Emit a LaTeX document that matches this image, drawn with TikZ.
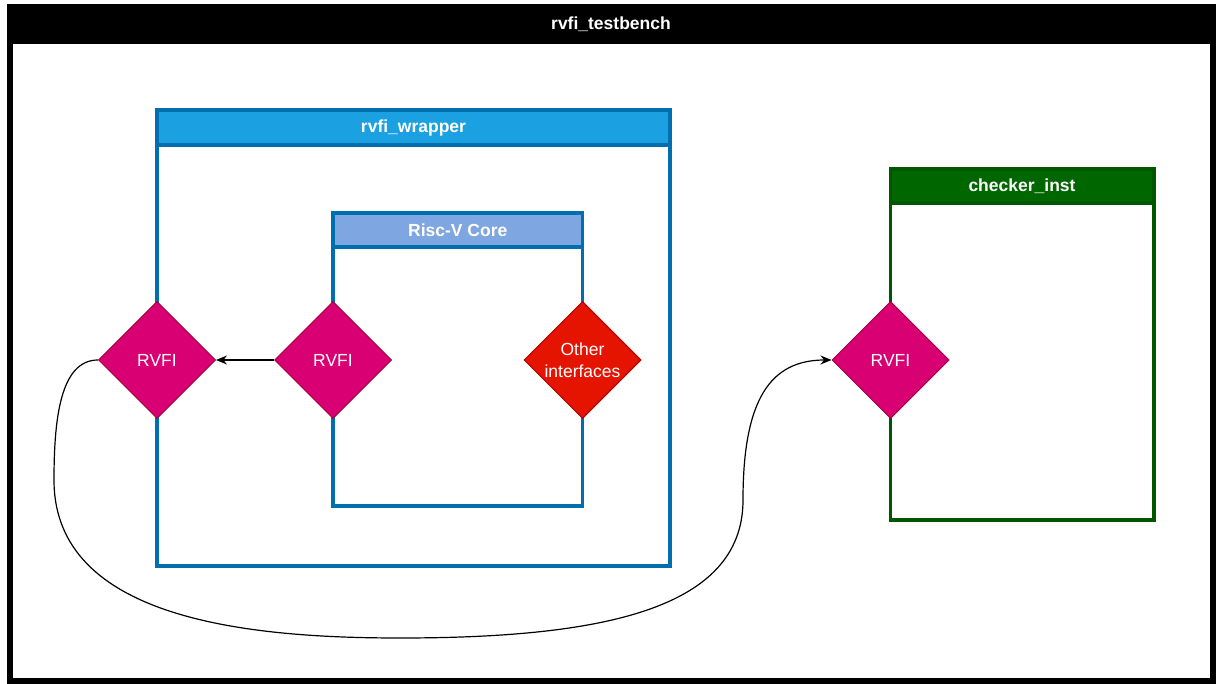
\documentclass[tikz,border=0pt]{standalone}
\usepackage{fontspec}
\setmainfont{Liberation Sans}
\usetikzlibrary{shapes.geometric,arrows.meta}
\definecolor{wrapblue}{HTML}{1BA1E2}
\definecolor{wrapline}{HTML}{006EAF}
\definecolor{coreblue}{HTML}{7EA6E0}
\definecolor{chkgreen}{HTML}{006600}
\definecolor{chkline}{HTML}{005700}
\definecolor{rvfipink}{HTML}{D80073}
\definecolor{rvfiline}{HTML}{A50040}
\definecolor{ifred}{HTML}{E51400}
\definecolor{ifline}{HTML}{B20000}
\begin{document}
\begin{tikzpicture}[x=1pt,y=-1pt,
  title/.style={text=white,font=\fontsize{17.5}{21}\selectfont\bfseries},
  box/.style={line width=3.5pt},
  port/.style={diamond,draw=rvfiline,fill=rvfipink,line width=1pt,minimum size=117pt,
    inner sep=0pt,text=white,font=\fontsize{17.5}{22}\selectfont,align=center},
  wire/.style={line width=1.2pt,-{Stealth[length=11pt,width=9pt]}}]
  \useasboundingbox (0,0) rectangle (1216,684);

  % testbench frame
  \fill (7,4) rectangle (1216,44);
  \draw[line width=6pt] (10,7) rectangle (1213,681);
  \node[title] (tbTitle) at (611,24) {rvfi\_testbench};

  % wrapper
  \draw[box,wrapline] (157,110) rectangle (670,566);
  \draw[box,wrapline,fill=wrapblue] (157,110) rectangle (670,145);
  \node[title] (wrapTitle) at (413.5,128) {rvfi\_wrapper};

  % core
  \draw[box,wrapline] (333,213) rectangle (582.5,506);
  \draw[box,wrapline,fill=coreblue] (333,213) rectangle (582.5,247);
  \node[title] (coreTitle) at (457.75,230) {Risc-V Core};

  % checker
  \draw[box,chkline] (890.5,169) rectangle (1154,520);
  \draw[box,chkline,fill=chkgreen] (890.5,169) rectangle (1154,203);
  \node[title] (chkTitle) at (1022,186) {checker\_inst};

  % ports
  \foreach \name/\x in {wrapRVFI/157,coreRVFI/333,chkRVFI/890.5}
    \node[port] (\name) at (\x,360) {RVFI};
  \node[port,draw=ifline,fill=ifred] (coreOther) at (582.5,360) {Other\\interfaces};

  \draw[wire] (coreRVFI.west) -- (wrapRVFI.east);
  \draw[wire] (wrapRVFI.west) .. controls (60,360) and (54,420) .. (54,480)
    .. controls (54,620) and (250,638) .. (400,638)
    .. controls (600,638) and (743,610) .. (743,500)
    .. controls (743,400) and (770,360) .. (chkRVFI.west);
\end{tikzpicture}
\end{document}
